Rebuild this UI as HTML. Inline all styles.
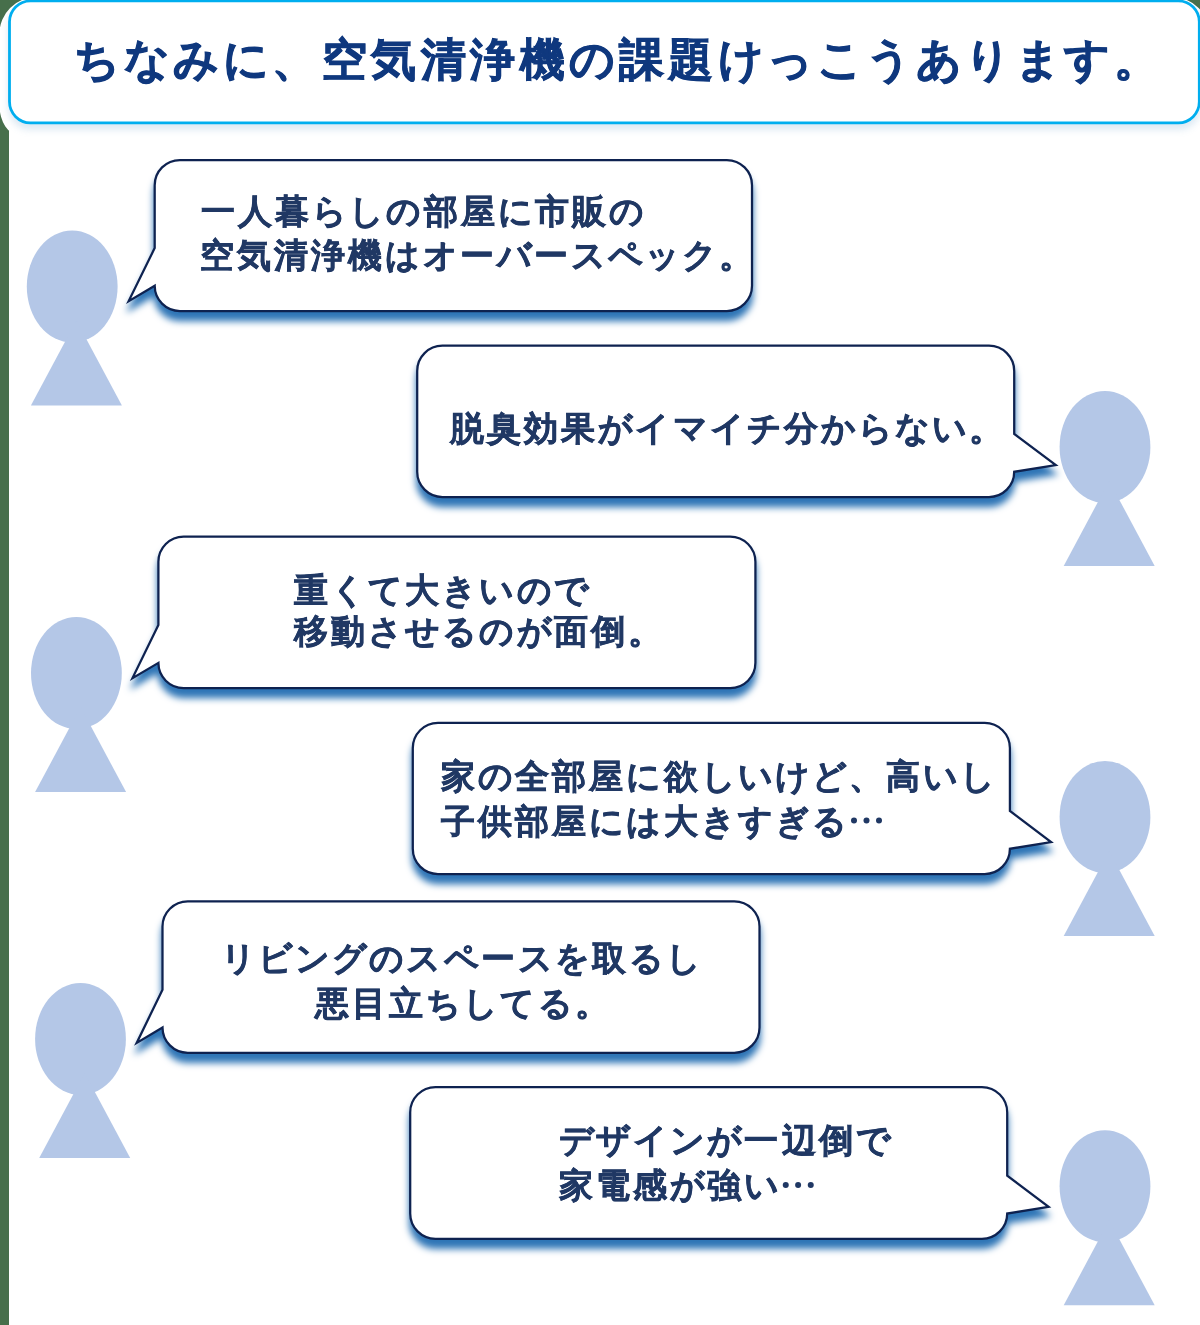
<!DOCTYPE html>
<html lang="ja"><head><meta charset="utf-8"><title>空気清浄機の課題</title>
<style>
html,body{margin:0;padding:0}
body{width:1200px;height:1325px;position:relative;overflow:hidden;background:#476f4b;font-family:"Liberation Sans",sans-serif}
svg{position:absolute;left:0;top:0;display:block}
.t,.b{position:absolute;white-space:pre;font-weight:bold;margin:0;will-change:transform}
.t i,.b i{display:inline-block;font-style:normal}
.t i{width:49.5px} .b i{width:37.1px}
.t{font-size:45.0px;line-height:45.0px;color:#0f387e;-webkit-text-stroke-width:0.9px}
.b{font-size:33.5px;line-height:33.5px;color:#203864;-webkit-text-stroke-width:0.6px}
</style></head>
<body>
<svg width="1200" height="1325" viewBox="0 0 1200 1325">
<defs><filter id="ds" x="-5%" y="-10%" width="110%" height="135%" color-interpolation-filters="sRGB"><feDropShadow dx="0" dy="9" stdDeviation="3.5" flood-color="#2E75B6" flood-opacity="1"/></filter><filter id="hs" x="-5%" y="-20%" width="110%" height="150%" color-interpolation-filters="sRGB"><feDropShadow dx="0" dy="5.5" stdDeviation="3.6" flood-color="#2E75B6" flood-opacity="0.16"/></filter></defs>
<rect width="1200" height="1325" fill="#476f4b"/>
<rect x="9" y="60" width="1191" height="1265" fill="#fff"/>
<path fill="#fff" d="M-0.5,33.5 A36.2,36.2 0 0 1 35.7,-2.7 L1173,-2.7 A36.2,36.2 0 0 1 1209.2,33.5 L1210,135.3 L19.5,135.3 A20,30 0 0 1 -0.5,105.3 Z"/>
<rect x="9.5" y="0.8" width="1189.8" height="122" rx="21" ry="21" fill="#fff" stroke="#00AEEF" stroke-width="2.8" filter="url(#hs)"/>
<g fill="#B4C7E7"><ellipse cx="72.2" cy="286.6" rx="45.4" ry="56"/><path d="M30.9,405.6 L76.4,320.6 L121.9,405.6 Z"/><ellipse cx="1105" cy="446.9" rx="45.4" ry="56"/><path d="M1063.7,565.9 L1109.2,480.9 L1154.7,565.9 Z"/><ellipse cx="76.4" cy="673.1" rx="45.4" ry="56"/><path d="M35.1,792.1 L80.6,707.1 L126.1,792.1 Z"/><ellipse cx="1105" cy="816.9" rx="45.4" ry="56"/><path d="M1063.7,935.9 L1109.2,850.9 L1154.7,935.9 Z"/><ellipse cx="80.5" cy="1038.9" rx="45.4" ry="56"/><path d="M39.2,1157.9 L84.7,1072.9 L130.2,1157.9 Z"/><ellipse cx="1105" cy="1186.3" rx="45.4" ry="56"/><path d="M1063.7,1305.3 L1109.2,1220.3 L1154.7,1305.3 Z"/></g>
<path d="M154.7,185.17 A25.17,25.17 0 0 1 179.87,160 L726.83,160 A25.17,25.17 0 0 1 752,185.17 L752,285.83 A25.17,25.17 0 0 1 726.83,311 L179.87,311 A25.17,25.17 0 0 1 154.7,285.83 L154.7,285.83 L128.7,301.1 L154.7,248.08 Z" fill="#fff" stroke="#0e2250" stroke-width="2.25" stroke-linejoin="miter" filter="url(#ds)"/>
<path d="M417.2,370.92 A25.22,25.22 0 0 1 442.42,345.7 L988.98,345.7 A25.22,25.22 0 0 1 1014.2,370.92 L1014.2,433.96 L1055.8,465 L1014.2,471.78 L1014.2,471.78 A25.22,25.22 0 0 1 988.98,497 L442.42,497 A25.22,25.22 0 0 1 417.2,471.78 Z" fill="#fff" stroke="#0e2250" stroke-width="2.25" stroke-linejoin="miter" filter="url(#ds)"/>
<path d="M158.4,561.85 A25.25,25.25 0 0 1 183.65,536.6 L730.15,536.6 A25.25,25.25 0 0 1 755.4,561.85 L755.4,662.85 A25.25,25.25 0 0 1 730.15,688.1 L183.65,688.1 A25.25,25.25 0 0 1 158.4,662.85 L158.4,662.85 L132.5,678.1 L158.4,624.98 Z" fill="#fff" stroke="#0e2250" stroke-width="2.25" stroke-linejoin="miter" filter="url(#ds)"/>
<path d="M412.8,748 A25.2,25.2 0 0 1 438,722.8 L984.7,722.8 A25.2,25.2 0 0 1 1009.9,748 L1009.9,811 L1051.1,842 L1009.9,848.8 L1009.9,848.8 A25.2,25.2 0 0 1 984.7,874 L438,874 A25.2,25.2 0 0 1 412.8,848.8 Z" fill="#fff" stroke="#0e2250" stroke-width="2.25" stroke-linejoin="miter" filter="url(#ds)"/>
<path d="M162.5,926.55 A25.25,25.25 0 0 1 187.75,901.3 L734.25,901.3 A25.25,25.25 0 0 1 759.5,926.55 L759.5,1027.55 A25.25,25.25 0 0 1 734.25,1052.8 L187.75,1052.8 A25.25,25.25 0 0 1 162.5,1027.55 L162.5,1027.55 L136.7,1042.9 L162.5,989.68 Z" fill="#fff" stroke="#0e2250" stroke-width="2.25" stroke-linejoin="miter" filter="url(#ds)"/>
<path d="M410.2,1112.38 A25.28,25.28 0 0 1 435.48,1087.1 L981.92,1087.1 A25.28,25.28 0 0 1 1007.2,1112.38 L1007.2,1175.59 L1048.6,1206.8 L1007.2,1213.52 L1007.2,1213.52 A25.28,25.28 0 0 1 981.92,1238.8 L435.48,1238.8 A25.28,25.28 0 0 1 410.2,1213.52 Z" fill="#fff" stroke="#0e2250" stroke-width="2.25" stroke-linejoin="miter" filter="url(#ds)"/>
<g fill="#203864"><circle cx="854" cy="820.5" r="3"/><circle cx="866.5" cy="820.5" r="3"/><circle cx="879" cy="820.5" r="3"/><circle cx="785.75" cy="1185" r="3"/><circle cx="798.1" cy="1185" r="3"/><circle cx="810.75" cy="1185" r="3"/></g>
</svg>
<div class="t" style="left:74.3px;top:37.05px"><i>ち</i><i>な</i><i>み</i><i>に</i><i>、</i><i>空</i><i>気</i><i>清</i><i>浄</i><i>機</i><i>の</i><i>課</i><i>題</i><i>け</i><i>っ</i><i>こ</i><i>う</i><i>あ</i><i>り</i><i>ま</i><i>す</i><i>。</i></div>
<div class="b" style="left:200.66px;top:194.81px"><i>一</i><i>人</i><i>暮</i><i>ら</i><i>し</i><i>の</i><i>部</i><i>屋</i><i>に</i><i>市</i><i>販</i><i>の</i></div>
<div class="b" style="left:200.16px;top:238.84px"><i>空</i><i>気</i><i>清</i><i>浄</i><i>機</i><i>は</i><i>オ</i><i>ー</i><i>バ</i><i>ー</i><i>ス</i><i>ペ</i><i>ッ</i><i>ク</i><i>。</i></div>
<div class="b" style="left:450.36px;top:411.94px"><i>脱</i><i>臭</i><i>効</i><i>果</i><i>が</i><i>イ</i><i>マ</i><i>イ</i><i>チ</i><i>分</i><i>か</i><i>ら</i><i>な</i><i>い</i><i>。</i></div>
<div class="b" style="left:293.76px;top:573.54px"><i>重</i><i>く</i><i>て</i><i>大</i><i>き</i><i>い</i><i>の</i><i>で</i></div>
<div class="b" style="left:293.76px;top:615.44px"><i>移</i><i>動</i><i>さ</i><i>せ</i><i>る</i><i>の</i><i>が</i><i>面</i><i>倒</i><i>。</i></div>
<div class="b" style="left:441.06px;top:759.79px"><i>家</i><i>の</i><i>全</i><i>部</i><i>屋</i><i>に</i><i>欲</i><i>し</i><i>い</i><i>け</i><i>ど</i><i>、</i><i>高</i><i>い</i><i>し</i></div>
<div class="b" style="left:440.66px;top:804.94px"><i>子</i><i>供</i><i>部</i><i>屋</i><i>に</i><i>は</i><i>大</i><i>き</i><i>す</i><i>ぎ</i><i>る</i><i style="color:transparent">…</i></div>
<div class="b" style="left:220.86px;top:942.24px"><i>リ</i><i>ビ</i><i>ン</i><i>グ</i><i>の</i><i>ス</i><i>ペ</i><i>ー</i><i>ス</i><i>を</i><i>取</i><i>る</i><i>し</i></div>
<div class="b" style="left:315.46px;top:986.84px"><i>悪</i><i>目</i><i>立</i><i>ち</i><i>し</i><i>て</i><i>る</i><i>。</i></div>
<div class="b" style="left:558.66px;top:1124.34px"><i>デ</i><i>ザ</i><i>イ</i><i>ン</i><i>が</i><i>一</i><i>辺</i><i>倒</i><i>で</i></div>
<div class="b" style="left:558.9px;top:1168.84px"><i>家</i><i>電</i><i>感</i><i>が</i><i>強</i><i>い</i><i style="color:transparent">…</i></div>
</body></html>
